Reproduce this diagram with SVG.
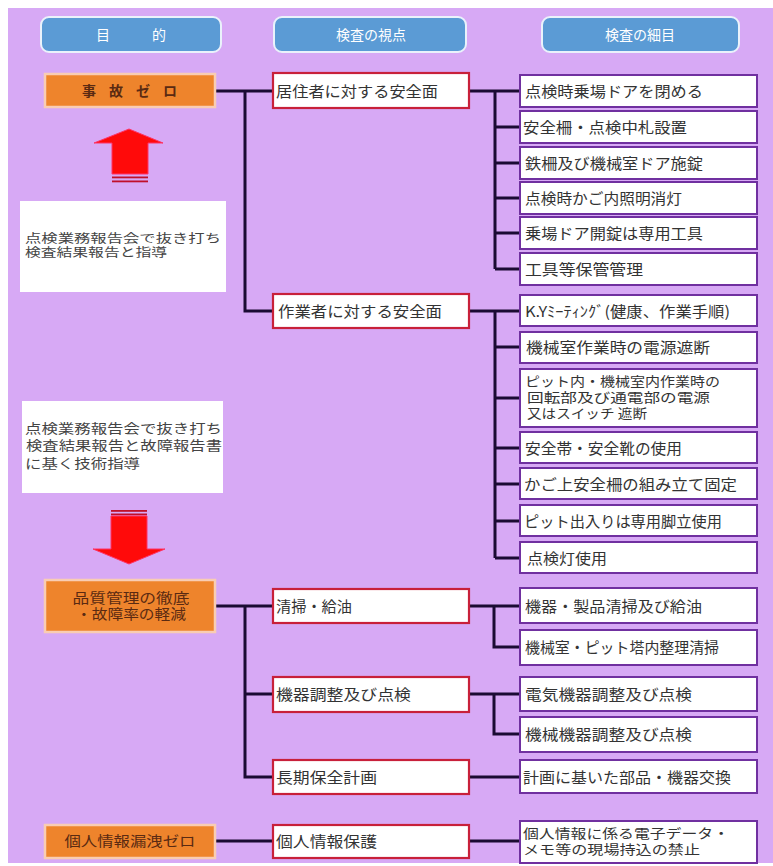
<svg xmlns="http://www.w3.org/2000/svg" width="773" height="866" viewBox="0 0 773 866">
<style>
text{font-family:"Noto Sans CJK JP","Noto Sans",sans-serif;fill:#333;font-size:15px}
.pill{fill:#5B9BD5;stroke:#EAF2FB;stroke-width:2}
.pt{fill:#fff;font-size:14px;text-anchor:middle}
.org{fill:#EE842C;stroke:#F9CDB3;stroke-width:2.5}
.ot{fill:#5A2A12;font-size:14px;text-anchor:middle}
.mid{fill:#fff;stroke:#C8203A;stroke-width:2.2}
.rt{fill:#fff;stroke:#7030A0;stroke-width:2}
.note{fill:#fff}
.nt{fill:#444;font-size:13px}
.sm{font-size:13px}
.con{stroke:#1B0B33;stroke-width:3;fill:none}
.arr{fill:#FF0A0A;stroke:#F36;stroke-width:1}
.stripe{fill:#C0102A}
</style>
<rect x="8" y="8" width="765" height="855" fill="#D7A9F5"/>

<g id="head-mokuteki"><rect class="pill" x="41" y="17" width="180" height="35" rx="8"/><text class="pt" x="131" y="40">目　　　的</text></g>
<g id="head-shiten"><rect class="pill" x="274" y="17" width="192" height="35" rx="8"/><text class="pt" x="371" y="40">検査の視点</text></g>
<g id="head-saimoku"><rect class="pill" x="542" y="17" width="197" height="35" rx="8"/><text class="pt" x="640" y="40">検査の細目</text></g>

<g id="connectors">
<path class="con" d="M215,91H273M245,91V311H273M469,91H520M495,91V269M495,127H520M495,163H520M495,198H520M495,233H520M495,269H520"/>
<path class="con" d="M469,311H520M495,311V558M495,347H520M495,398H520M495,448H520M495,484H520M495,521H520M495,558H520"/>
<path class="con" d="M215,606H273M245,606V777H273M245,694H273M469,606H520M494,606V647H520M469,694H520M494,694V734H520M469,777H520"/>
<path class="con" d="M215,841H273M469,841H520"/>
</g>

<g id="goal-jiko"><rect class="org" x="45" y="74" width="170" height="33"/><text class="ot" x="82" y="96" font-weight="bold" style="text-anchor:start" textLength="95" lengthAdjust="spacing">事故ゼロ</text></g>
<g id="goal-hinshitsu"><rect class="org" x="45" y="580" width="170" height="52"/><text class="ot" x="131" y="603" textLength="117" lengthAdjust="spacingAndGlyphs">品質管理の徹底</text><text class="ot" x="131" y="619" textLength="110" lengthAdjust="spacingAndGlyphs">・故障率の軽減</text></g>
<g id="goal-kojin"><rect class="org" x="45" y="825" width="170" height="33"/><text class="ot" x="130" y="846" textLength="131" lengthAdjust="spacingAndGlyphs">個人情報漏洩ゼロ</text></g>

<g id="arrow-up"><path class="arr" d="M129,129L163,143H148V174H112V143H94Z"/><rect class="stripe" x="112" y="176.5" width="36" height="1.8"/><rect class="stripe" x="112" y="180.5" width="36" height="1.8"/></g>
<g id="note-1"><rect class="note" x="20" y="201" width="206" height="91"/><text class="nt" x="25" y="243" font-size="12" style="font-size:12px" textLength="196" lengthAdjust="spacingAndGlyphs">点検業務報告会で抜き打ち</text><text class="nt" x="25" y="257" style="font-size:12px" textLength="142" lengthAdjust="spacingAndGlyphs">検査結果報告と指導</text></g>
<g id="note-2"><rect class="note" x="22" y="401" width="201" height="92"/><text class="nt" x="25" y="433" textLength="197" lengthAdjust="spacingAndGlyphs">点検業務報告会で抜き打ち</text><text class="nt" x="26" y="450" textLength="196" lengthAdjust="spacingAndGlyphs">検査結果報告と故障報告書</text><text class="nt" x="25" y="468" textLength="115" lengthAdjust="spacingAndGlyphs">に基く技術指導</text></g>
<g id="arrow-down"><rect class="stripe" x="111" y="510" width="36" height="1.8"/><rect class="stripe" x="111" y="513.5" width="36" height="1.8"/><path class="arr" d="M111,516H147V549H165L129,564L93,549H111Z"/></g>

<g id="view-kyoju"><rect class="mid" x="273" y="73" width="196" height="35"/><text x="276" y="96.5" textLength="162" lengthAdjust="spacingAndGlyphs">居住者に対する安全面</text></g>
<g id="view-sagyo"><rect class="mid" x="273" y="294" width="196" height="34"/><text x="278" y="316.5" textLength="164" lengthAdjust="spacingAndGlyphs">作業者に対する安全面</text></g>
<g id="view-seiso"><rect class="mid" x="273" y="589" width="196" height="34"/><text x="276" y="611.5" textLength="76" lengthAdjust="spacingAndGlyphs">清掃・給油</text></g>
<g id="view-kiki"><rect class="mid" x="273" y="677" width="196" height="35"/><text x="276" y="700" textLength="135" lengthAdjust="spacingAndGlyphs">機器調整及び点検</text></g>
<g id="view-choki"><rect class="mid" x="273" y="760" width="196" height="34"/><text x="276" y="782.5" textLength="101" lengthAdjust="spacingAndGlyphs">長期保全計画</text></g>
<g id="view-kojin"><rect class="mid" x="273" y="825" width="196" height="33"/><text x="276" y="847" textLength="101" lengthAdjust="spacingAndGlyphs">個人情報保護</text></g>

<g id="d1"><rect class="rt" x="520" y="75" width="237" height="32"/><text x="525" y="96.5" textLength="178" lengthAdjust="spacingAndGlyphs">点検時乗場ドアを閉める</text></g>
<g id="d2"><rect class="rt" x="520" y="111" width="237" height="32"/><text x="523" y="132.5" textLength="164" lengthAdjust="spacingAndGlyphs">安全柵・点検中札設置</text></g>
<g id="d3"><rect class="rt" x="520" y="147" width="237" height="32"/><text x="525" y="168.5" textLength="178" lengthAdjust="spacingAndGlyphs">鉄柵及び機械室ドア施錠</text></g>
<g id="d4"><rect class="rt" x="520" y="182" width="237" height="32"/><text x="525" y="203.5" textLength="157" lengthAdjust="spacingAndGlyphs">点検時かご内照明消灯</text></g>
<g id="d5"><rect class="rt" x="520" y="217" width="237" height="32"/><text x="525" y="238.5" textLength="178" lengthAdjust="spacingAndGlyphs">乗場ドア開錠は専用工具</text></g>
<g id="d6"><rect class="rt" x="520" y="253" width="237" height="32"/><text x="525" y="274.5" textLength="118" lengthAdjust="spacingAndGlyphs">工具等保管管理</text></g>

<g id="d7"><rect class="rt" x="520" y="295" width="237" height="31"/><text x="525" y="316.5" textLength="205" lengthAdjust="spacingAndGlyphs">K.Yﾐｰﾃｨﾝｸﾞ(健康、作業手順)</text></g>
<g id="d8"><rect class="rt" x="520" y="332" width="237" height="31"/><text x="526" y="353" textLength="184" lengthAdjust="spacingAndGlyphs">機械室作業時の電源遮断</text></g>
<g id="d9"><rect class="rt" x="520" y="369" width="237" height="58"/><text class="sm" x="525" y="386" textLength="195" lengthAdjust="spacingAndGlyphs">ピット内・機械室内作業時の</text><text class="sm" x="527" y="402" textLength="183" lengthAdjust="spacingAndGlyphs">回転部及び通電部の電源</text><text class="sm" x="527" y="418" textLength="120" lengthAdjust="spacingAndGlyphs">又はスイッチ 遮断</text></g>
<g id="d10"><rect class="rt" x="520" y="432" width="237" height="31"/><text x="525" y="453.5" textLength="157" lengthAdjust="spacingAndGlyphs">安全帯・安全靴の使用</text></g>
<g id="d11"><rect class="rt" x="520" y="468" width="237" height="31"/><text x="524" y="489.5" textLength="213" lengthAdjust="spacingAndGlyphs">かご上安全柵の組み立て固定</text></g>
<g id="d12"><rect class="rt" x="520" y="505" width="237" height="31"/><text x="524" y="526.5" textLength="198" lengthAdjust="spacingAndGlyphs">ピット出入りは専用脚立使用</text></g>
<g id="d13"><rect class="rt" x="520" y="542" width="237" height="31"/><text x="527" y="563.5" textLength="80" lengthAdjust="spacingAndGlyphs">点検灯使用</text></g>

<g id="d14"><rect class="rt" x="520" y="588" width="237" height="35"/><text x="525" y="611.5" textLength="177" lengthAdjust="spacingAndGlyphs">機器・製品清掃及び給油</text></g>
<g id="d15"><rect class="rt" x="520" y="630" width="237" height="35"/><text x="525" y="653" textLength="194" lengthAdjust="spacingAndGlyphs">機械室・ピット塔内整理清掃</text></g>
<g id="d16"><rect class="rt" x="520" y="677" width="237" height="34"/><text x="525" y="700" textLength="167" lengthAdjust="spacingAndGlyphs">電気機器調整及び点検</text></g>
<g id="d17"><rect class="rt" x="520" y="717" width="237" height="35"/><text x="525" y="740" textLength="167" lengthAdjust="spacingAndGlyphs">機械機器調整及び点検</text></g>
<g id="d18"><rect class="rt" x="520" y="760" width="237" height="33"/><text x="523" y="782.5" textLength="208" lengthAdjust="spacingAndGlyphs">計画に基いた部品・機器交換</text></g>
<g id="d19"><rect class="rt" x="520" y="821" width="237" height="42"/><text class="sm" x="523" y="838" textLength="206" lengthAdjust="spacingAndGlyphs">個人情報に係る電子データ・</text><text class="sm" x="523" y="854" textLength="177" lengthAdjust="spacingAndGlyphs">メモ等の現場持込の禁止</text></g>
</svg>
